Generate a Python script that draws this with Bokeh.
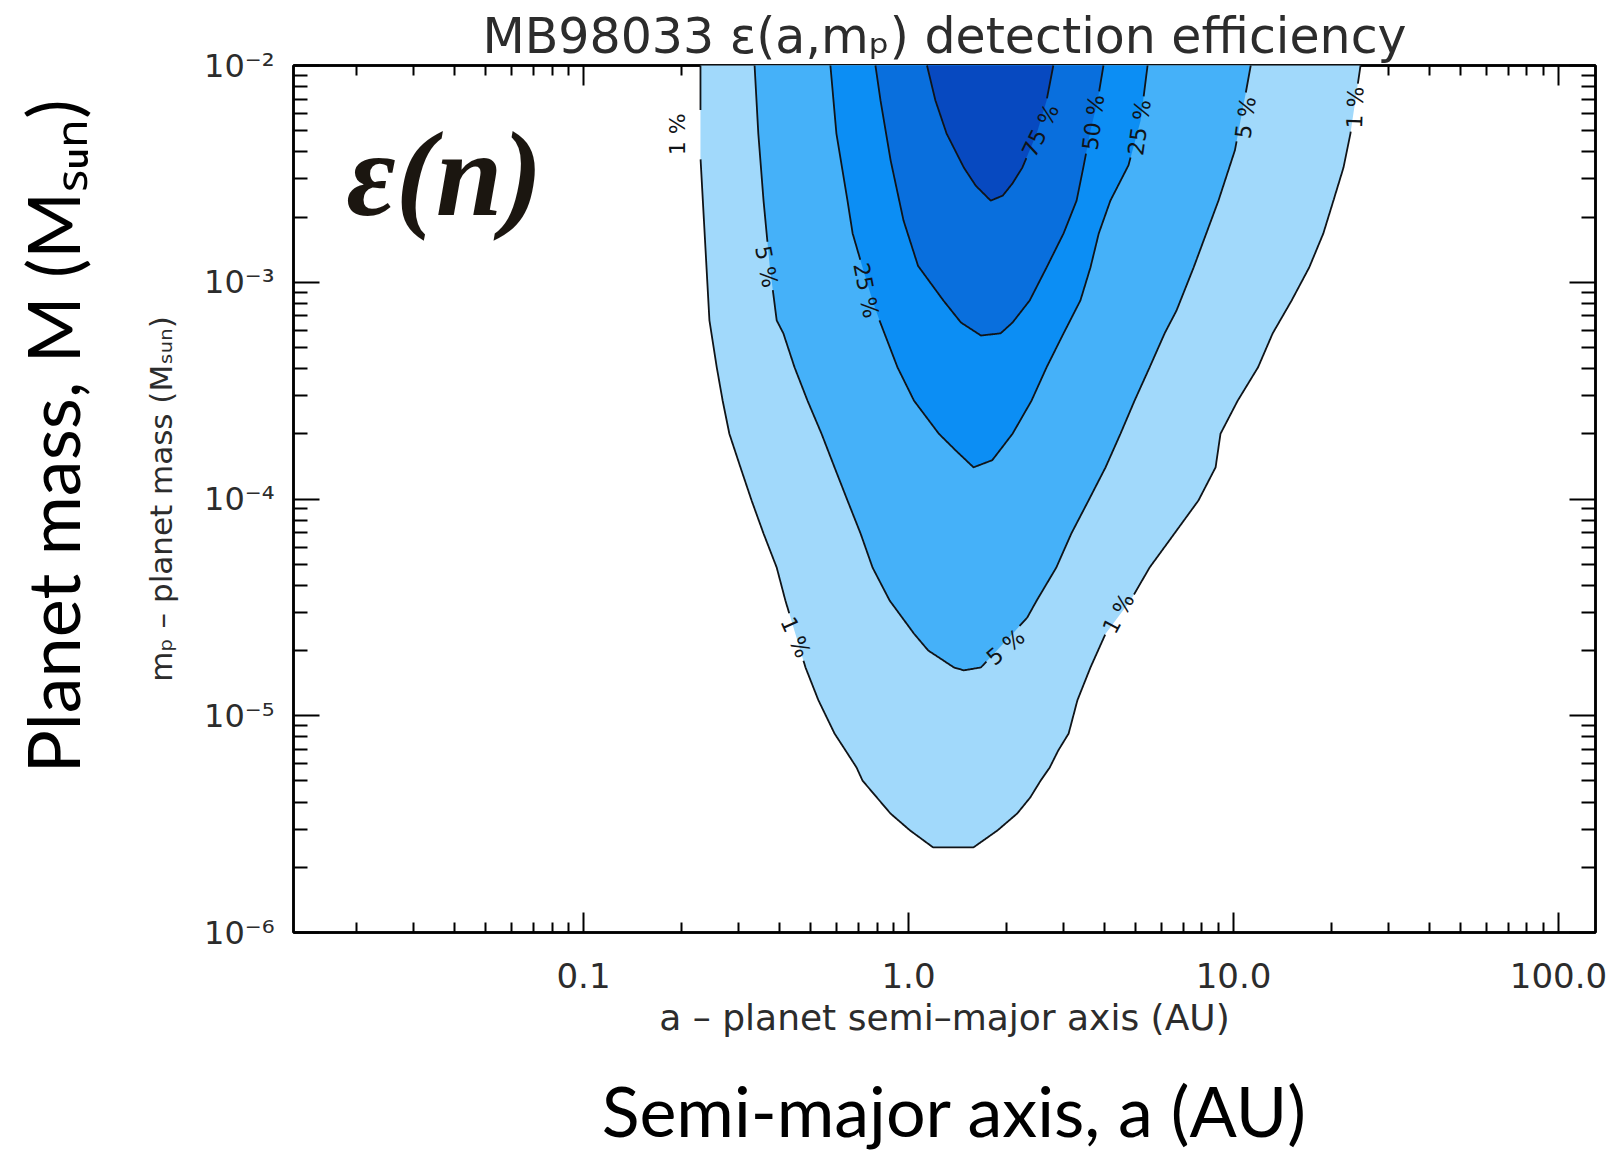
import math

from bokeh.core.properties import value
from bokeh.embed import file_html
from bokeh.layouts import column, row
from bokeh.models import FixedTicker, Label, LogAxis
from bokeh.plotting import figure
from bokeh.resources import INLINE

# ---------------------------------------------------------------------------
# Detection-efficiency contours for MB98033.
# Each contour starts at the top edge (m = 1e-2), runs down the left flank,
# across the bottom of the "V" and back up to the top edge.
# a in AU, m in solar masses.
# ---------------------------------------------------------------------------
levels = [1, 5, 25, 50, 75]
band_colors = ["#a1d9fb", "#45b1f9", "#0c8ef4", "#096fdd", "#0749c0"]

a_1 = [0.229, 0.229, 0.244, 0.257, 0.268, 0.281, 0.304, 0.329, 0.358, 0.393,
       0.418, 0.482, 0.528, 0.592, 0.640, 0.692, 0.722, 0.880, 1.01, 1.19,
       1.585, 1.88, 2.16, 2.37, 2.55, 2.72, 2.89, 3.11, 3.31, 3.63,
       4.04, 4.82, 5.52, 6.58, 7.80, 8.81, 9.12, 10.3, 11.9, 13.2,
       15.1, 17.1, 18.9, 20.3, 21.8, 22.9, 24.6]
m_1 = [1.0e-2, 3.77e-3, 6.67e-4, 4.05e-4, 2.84e-4, 2.00e-4, 1.40e-4, 9.84e-5, 6.93e-5, 4.83e-5,
       3.40e-5, 1.67e-5, 1.18e-5, 8.28e-6, 6.92e-6, 5.77e-6, 5.02e-6, 3.54e-6, 2.96e-6, 2.47e-6,
       2.47e-6, 2.96e-6, 3.54e-6, 4.20e-6, 5.02e-6, 5.77e-6, 6.92e-6, 8.28e-6, 1.18e-5, 1.67e-5,
       2.39e-5, 3.40e-5, 4.83e-5, 6.93e-5, 9.84e-5, 1.40e-4, 2.00e-4, 2.84e-4, 4.05e-4, 5.81e-4,
       8.24e-4, 1.17e-3, 1.68e-3, 2.38e-3, 3.38e-3, 4.85e-3, 1.0e-2]

a_5 = [0.336, 0.345, 0.358, 0.374, 0.393, 0.412, 0.446, 0.489, 0.540, 0.592,
       0.649, 0.712, 0.775, 0.875, 1.04, 1.15, 1.38, 1.48, 1.67, 2.09,
       2.32, 2.48, 2.85, 3.17, 3.58, 4.04, 4.49, 4.96, 5.52, 6.14,
       6.68, 7.54, 8.99, 10.1, 10.9, 11.3]
m_5 = [1.0e-2, 4.85e-3, 2.38e-3, 1.19e-3, 6.67e-4, 5.81e-4, 4.05e-4, 2.84e-4, 2.00e-4, 1.40e-4,
       9.84e-5, 6.93e-5, 4.83e-5, 3.40e-5, 2.39e-5, 2.00e-5, 1.67e-5, 1.62e-5, 1.67e-5, 2.39e-5,
       2.84e-5, 3.40e-5, 4.83e-5, 6.93e-5, 9.84e-5, 1.40e-4, 2.00e-4, 2.84e-4, 4.05e-4, 5.81e-4,
       7.41e-4, 1.17e-3, 2.38e-3, 4.06e-3, 7.43e-3, 1.0e-2]

a_25 = [0.575, 0.600, 0.649, 0.673, 0.722, 0.775, 0.814, 0.925, 1.04, 1.24,
        1.40, 1.585, 1.81, 2.09, 2.39, 2.66, 3.00, 3.38, 3.63, 3.85,
        4.18, 4.75, 5.18, 5.44]
m_25 = [1.0e-2, 4.85e-3, 2.38e-3, 1.68e-3, 1.17e-3, 8.24e-4, 6.67e-4, 4.05e-4, 2.84e-4, 2.00e-4,
        1.67e-4, 1.40e-4, 1.51e-4, 2.00e-4, 2.84e-4, 4.05e-4, 5.81e-4, 8.24e-4, 1.17e-3, 1.68e-3,
        2.38e-3, 3.46e-3, 5.58e-3, 1.0e-2]

a_50 = [0.791, 0.820, 0.881, 0.965, 1.07, 1.28, 1.45, 1.67, 1.92, 2.09,
        2.36, 2.66, 3.00, 3.29, 3.45, 3.63, 3.82, 3.98]
m_50 = [1.0e-2, 6.90e-3, 3.65e-3, 1.93e-3, 1.19e-3, 8.24e-4, 6.52e-4, 5.68e-4, 5.81e-4, 6.52e-4,
        8.24e-4, 1.17e-3, 1.68e-3, 2.38e-3, 3.38e-3, 5.01e-3, 6.90e-3, 1.0e-2]

a_75 = [1.14, 1.21, 1.31, 1.48, 1.61, 1.79, 1.95, 2.09, 2.24, 2.48, 2.66, 2.79]
m_75 = [1.0e-2, 6.90e-3, 4.85e-3, 3.38e-3, 2.79e-3, 2.38e-3, 2.51e-3, 2.86e-3, 3.38e-3, 4.85e-3,
        6.90e-3, 1.0e-2]

contour_a = [a_1, a_5, a_25, a_50, a_75]
contour_m = [m_1, m_5, m_25, m_50, m_75]

# in-line contour labels: level, position, text angle (deg, counter-clockwise)
lab_level = [1, 5, 25, 1, 5, 1, 75, 50, 25, 5, 1]
lab_a = [0.195, 0.365, 0.74, 0.449, 1.99, 4.43, 2.55, 3.71, 5.14, 10.9, 23.7]
lab_m = [4.81e-3, 1.18e-3, 9.16e-4, 2.30e-5, 2.07e-5, 2.96e-5, 5.01e-3, 5.46e-3, 5.18e-3, 5.75e-3, 6.40e-3]
lab_angle = [90, -79, -79, -66, 40, 62, 64, 83, 82, 82, 88]

# axis ticks
x_ticks = [0.1, 1.0, 10.0, 100.0]
x_tick_labels = ["0.1", "1.0", "10.0", "100.0"]
y_ticks = [1e-6, 1e-5, 1e-4, 1e-3, 1e-2]
y_tick_labels = ["10\u207b\u2076", "10\u207b\u2075", "10\u207b\u2074", "10\u207b\u00b3", "10\u207b\u00b2"]

# slide captions
x_caption = "Semi-major axis, a (AU)"
y_caption = "Planet mass, M (M\u209b\u1d64\u2099)"

# ---------------------------------------------------------------------------
# layout: a caption strip on the left, the plot, a caption strip underneath
# ---------------------------------------------------------------------------
PAGE_W, PAGE_H = 1619, 1151
STRIP_W = 120            # left caption strip
PLOT_H = 1054
STRIP_H = PAGE_H - PLOT_H
PLOT_W = PAGE_W - STRIP_W
BORDER_L, BORDER_R, BORDER_T, BORDER_B = 293 - STRIP_W, 24, 65, PLOT_H - 932
FRAME_W = PLOT_W - BORDER_L - BORDER_R
FRAME_H = PLOT_H - BORDER_T - BORDER_B
X_RANGE = (0.01281, 130.0)
Y_RANGE = (1e-6, 1e-2)

IDL_FONT = "DejaVu Sans"
SLIDE_FONT = "Lato"
INK = "#2c2c2c"
LABEL_SIZE = 22

x_minor = [k * 10.0 ** e for e in range(-2, 2) for k in range(2, 10)
           if X_RANGE[0] <= k * 10.0 ** e <= X_RANGE[1]]
y_minor = [k * 10.0 ** e for e in range(-6, -2) for k in range(2, 10)]

p = figure(width=PLOT_W, height=PLOT_H, x_axis_type="log", y_axis_type="log",
           x_range=X_RANGE, y_range=Y_RANGE,
           output_backend="svg", toolbar_location=None,
           min_border_left=BORDER_L, min_border_right=BORDER_R,
           min_border_top=BORDER_T, min_border_bottom=BORDER_B)
p.background_fill_color = "white"
p.border_fill_color = "white"
p.outline_line_color = "black"
p.outline_line_width = 2.5
p.grid.visible = False


def style_axis(ax, major_in, minor_in):
    ax.axis_line_color = "black"
    ax.axis_line_width = 2.5
    ax.major_tick_in = major_in
    ax.major_tick_out = 0
    ax.minor_tick_in = minor_in
    ax.minor_tick_out = 0
    ax.major_tick_line_width = 2
    ax.minor_tick_line_width = 2
    ax.major_tick_line_color = "black"
    ax.minor_tick_line_color = "black"


def blank_labels(ax, ticks):
    ax.major_label_overrides = {t: "" for t in ticks}
    ax.major_label_text_font_size = "0px"
    ax.major_label_standoff = 0


# bottom axis
xb = p.xaxis[0]
xb.ticker = FixedTicker(ticks=x_ticks, minor_ticks=x_minor)
xb.major_label_overrides = dict(zip(x_ticks, x_tick_labels))
style_axis(xb, 20, 10)
xb.major_label_text_font = IDL_FONT
xb.major_label_text_font_size = "34px"
xb.major_label_text_color = INK
xb.major_label_standoff = 30
xb.axis_label = "a \u2013 planet semi\u2013major axis (AU)"
xb.axis_label_text_font = IDL_FONT
xb.axis_label_text_font_size = "36px"
xb.axis_label_text_font_style = "normal"
xb.axis_label_text_color = INK
xb.axis_label_standoff = 6

# left axis
yl = p.yaxis[0]
yl.ticker = FixedTicker(ticks=y_ticks, minor_ticks=y_minor)
yl.major_label_overrides = dict(zip(y_ticks, y_tick_labels))
style_axis(yl, 26, 14)
yl.major_label_text_font = IDL_FONT
yl.major_label_text_font_size = "32px"
yl.major_label_text_color = INK
yl.major_label_standoff = 19
yl.axis_label = "m\u209a \u2013 planet mass (M\u209b\u1d64\u2099)"
yl.axis_label_text_font = IDL_FONT
yl.axis_label_text_font_size = "31px"
yl.axis_label_text_font_style = "normal"
yl.axis_label_text_color = INK
yl.axis_label_standoff = 22

# mirrored axes on top and right, ticks only
xt = LogAxis(ticker=FixedTicker(ticks=x_ticks, minor_ticks=x_minor))
style_axis(xt, 20, 10)
blank_labels(xt, x_ticks)
p.add_layout(xt, "above")

yr = LogAxis(ticker=FixedTicker(ticks=y_ticks, minor_ticks=y_minor))
style_axis(yr, 26, 14)
blank_labels(yr, y_ticks)
p.add_layout(yr, "right")

# plot title
p.title.text = "MB98033 \u03b5(a,m\u209a) detection efficiency"
p.title.align = "center"
p.title.text_font = IDL_FONT
p.title.text_font_size = "49px"
p.title.text_font_style = "normal"
p.title.text_color = INK
p.title.standoff = 2

# ---------------------------------------------------------------------------
# filled bands, drawn lowest level first so each higher band sits on top
# ---------------------------------------------------------------------------
for a_vals, m_vals, color in zip(contour_a, contour_m, band_colors):
    p.patch(a_vals, m_vals, fill_color=color, line_color=None, level="overlay")

# ---------------------------------------------------------------------------
# contour lines, broken where the in-line labels sit
# ---------------------------------------------------------------------------
lx0, lx1 = math.log10(X_RANGE[0]), math.log10(X_RANGE[1])
ly0, ly1 = math.log10(Y_RANGE[0]), math.log10(Y_RANGE[1])


def to_px(a, m):
    return ((math.log10(a) - lx0) / (lx1 - lx0) * FRAME_W,
            (ly1 - math.log10(m)) / (ly1 - ly0) * FRAME_H)


def from_px(x, y):
    return (10 ** (lx0 + x / FRAME_W * (lx1 - lx0)),
            10 ** (ly1 - y / FRAME_H * (ly1 - ly0)))


glyph_w = {"%": 0.95, " ": 0.318}


def label_text(lev):
    return f"{lev} %"


def text_width(txt):
    return sum(glyph_w.get(c, 0.636) for c in txt) * LABEL_SIZE


label_boxes = []
for lev, la, lm, ang in zip(lab_level, lab_a, lab_m, lab_angle):
    cx, cy = to_px(la, lm)
    t = math.radians(ang)
    half_len = text_width(label_text(lev)) / 2 + 3
    # the upper-left 1 % label sits beside its line rather than on it
    half_wid = 30 if (lev == 1 and ang == 90) else 11
    label_boxes.append((lev, cx, cy, math.cos(t), -math.sin(t), half_len, half_wid))


def hidden(lev, x, y):
    for blev, cx, cy, ux, uy, hl, hw in label_boxes:
        if blev != lev:
            continue
        dx, dy = x - cx, y - cy
        along = dx * ux + dy * uy
        perp = -dx * uy + dy * ux
        if abs(along) <= hl and abs(perp) <= hw:
            return True
    return False


line_xs, line_ys = [], []
for lev, a_vals, m_vals in zip(levels, contour_a, contour_m):
    pts = [to_px(a, m) for a, m in zip(a_vals, m_vals)]
    run = []
    for (x0, y0), (x1, y1) in zip(pts[:-1], pts[1:]):
        steps = max(1, int(math.hypot(x1 - x0, y1 - y0)))
        for i in range(steps):
            f = i / steps
            x, y = x0 + f * (x1 - x0), y0 + f * (y1 - y0)
            if hidden(lev, x, y):
                if len(run) > 1:
                    line_xs.append([q[0] for q in run])
                    line_ys.append([q[1] for q in run])
                run = []
            else:
                run.append(from_px(x, y))
    if not hidden(lev, *pts[-1]):
        run.append(from_px(*pts[-1]))
    if len(run) > 1:
        line_xs.append([q[0] for q in run])
        line_ys.append([q[1] for q in run])

p.multi_line(line_xs, line_ys, line_color="#101418", line_width=1.8, level="overlay")

p.text(x=lab_a, y=lab_m, text=[label_text(v) for v in lab_level],
       angle=lab_angle, angle_units="deg",
       text_align="center", text_baseline="middle",
       text_font=value(IDL_FONT), text_font_size=f"{LABEL_SIZE}px",
       text_color="#101418", level="overlay")

# panel tag
p.add_layout(Label(x=0.01866, y=3.14e-3, text="\u03b5(n)",
                   text_font="Liberation Serif", text_font_size="120px",
                   text_font_style="bold italic", text_color="#1b1610",
                   text_align="left", text_baseline="alphabetic"))

# ---------------------------------------------------------------------------
# caption strips (pixel coordinates, y measured downward from the strip top)
# ---------------------------------------------------------------------------


def caption_strip(w, h):
    f = figure(width=w, height=h, x_range=(0, w), y_range=(h, 0),
               x_axis_location=None, y_axis_location=None,
               output_backend="svg", toolbar_location=None, min_border=0)
    f.grid.visible = False
    f.outline_line_color = None
    f.background_fill_color = "white"
    f.border_fill_color = "white"
    return f


left_strip = caption_strip(STRIP_W, PLOT_H)
left_strip.text(x=[51], y=[451], text=[y_caption], angle=90, angle_units="deg",
                text_align="center", text_baseline="middle",
                text_font=value(SLIDE_FONT), text_font_size="72px", text_color="black")

bottom_strip = caption_strip(PAGE_W, STRIP_H)
bottom_strip.text(x=[954], y=[1109 - PLOT_H], text=[x_caption],
                  text_align="center", text_baseline="middle",
                  text_font=value(SLIDE_FONT), text_font_size="70px", text_color="black")

page = column(row(left_strip, p, spacing=0), bottom_strip, spacing=0)

open("out.html", "w").write(file_html(page, INLINE))
